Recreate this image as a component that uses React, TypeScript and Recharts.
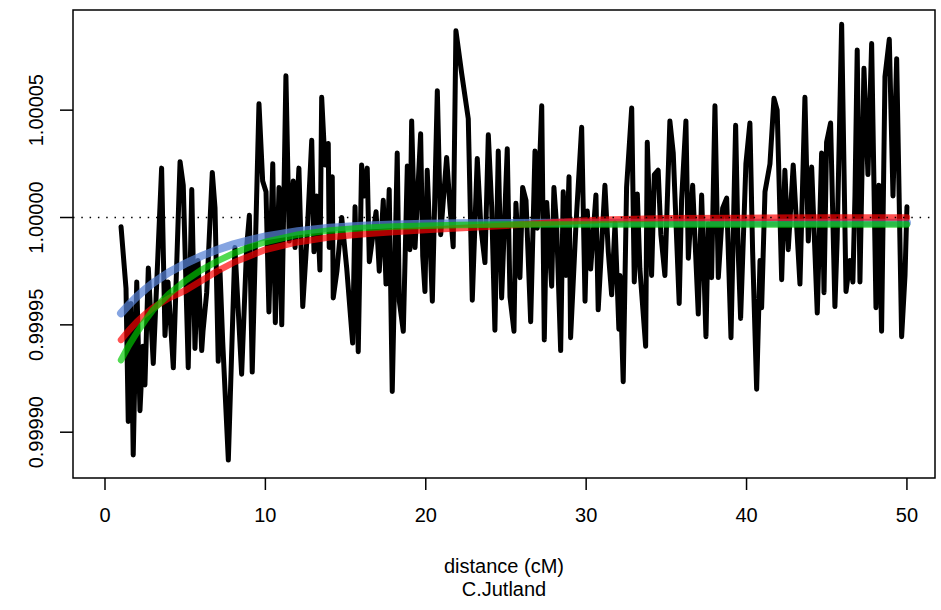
import React from "react";
import { LineChart, Line, XAxis, YAxis, ReferenceLine, ReferenceArea } from "recharts";

// observed ratio vs genetic distance (cM)
const distance = [
  1.0, 1.31, 1.45, 1.62, 1.76, 1.98, 2.18, 2.37, 2.49, 2.7, 3.01, 3.53, 3.74, 3.93, 4.26, 4.68, 4.88, 5.19, 5.41, 5.61,
  5.8, 6.03, 6.11, 6.34, 6.69, 6.86, 7.06, 7.17, 7.34, 7.69, 8.1, 8.52, 8.83, 9.0, 9.18, 9.6, 9.83, 10.04, 10.22, 10.46,
  10.62, 10.85, 11.02, 11.28, 11.49, 11.74, 11.85, 12.09, 12.33, 12.59, 12.89, 13.03, 13.2, 13.4, 13.51, 13.72, 13.92, 13.98, 14.17, 14.23,
  14.46, 14.76, 15.07, 15.44, 15.59, 15.79, 16.0, 16.18, 16.35, 16.48, 16.9, 17.1, 17.35, 17.52, 17.72, 17.91, 18.22, 18.35, 18.6, 18.85,
  19.01, 19.12, 19.33, 19.68, 19.81, 19.95, 20.09, 20.41, 20.72, 20.93, 21.3, 21.51, 21.71, 21.88, 22.24, 22.65, 22.9, 23.21, 23.44, 23.69,
  23.9, 24.11, 24.31, 24.52, 24.73, 25.08, 25.25, 25.5, 25.62, 25.87, 26.04, 26.25, 26.54, 26.81, 26.95, 27.23, 27.39, 27.54, 27.85, 27.99,
  28.16, 28.41, 28.57, 28.74, 28.93, 29.03, 29.36, 29.72, 29.93, 30.07, 30.28, 30.61, 30.75, 31.17, 31.38, 31.59, 31.8, 32.04, 32.11, 32.31,
  32.52, 32.84, 33.0, 33.19, 33.35, 33.71, 33.81, 34.08, 34.25, 34.49, 34.66, 34.91, 35.22, 35.43, 35.8, 35.95, 36.22, 36.37, 36.64, 36.99,
  37.2, 37.47, 37.61, 37.82, 38.03, 38.24, 38.51, 38.76, 39.03, 39.32, 39.48, 39.63, 39.96, 40.21, 40.38, 40.63, 40.84, 40.94, 41.15, 41.46,
  41.71, 41.91, 42.19, 42.39, 42.6, 42.91, 43.33, 43.64, 43.85, 44.06, 44.41, 44.68, 44.83, 44.99, 45.24, 45.51, 45.65, 45.93, 46.2, 46.45,
  46.63, 46.76, 46.9, 47.07, 47.32, 47.57, 47.8, 48.07, 48.25, 48.42, 48.63, 48.9, 49.13, 49.36, 49.67, 49.88, 50.0,
];

const observed = [
  0.9999957, 0.999967, 0.999905, 0.99996, 0.9998894, 0.99997, 0.99991, 0.99994, 0.999922, 0.9999765, 0.999932, 1.000023, 0.999945, 0.99997, 0.99993, 1.000026, 1.000015, 0.99993, 1.000013, 0.999939,
  0.99998, 0.999938, 0.999947, 0.999965, 1.000021, 1.0000044, 0.999933, 0.999975, 0.999942, 0.999887, 0.999986, 0.999927, 0.999986, 1.000001, 0.999928, 1.000053, 1.000017, 1.000012, 0.999956, 1.000025,
  0.999951, 1.000014, 0.99995, 1.000066, 0.999989, 1.000017, 0.999986, 1.000023, 0.9999585, 0.99999, 1.000036, 0.999984, 1.00001, 0.9999755, 1.000056, 1.0000245, 1.0000345, 0.999986, 1.000019, 0.9999625,
  0.999975, 1.0, 0.9999765, 0.9999415, 1.000005, 0.9999375, 1.0000245, 1.00001, 1.000023, 0.9999794, 1.0000027, 0.999975, 1.000008, 0.999969, 1.000013, 0.999919, 1.00003, 0.999961, 0.999947, 1.000024,
  0.999985, 1.000045, 0.999986, 1.000039, 0.999982, 0.9999655, 1.000022, 0.999961, 1.000059, 0.999992, 1.000028, 1.000005, 0.9999864, 1.000087, 1.000067, 1.000046, 0.9999615, 1.0000275, 0.999995, 0.999979,
  1.0000385, 1.000005, 0.9999475, 1.000031, 0.9999625, 1.000032, 0.999963, 0.999947, 1.0000066, 0.999972, 1.000014, 1.000008, 0.9999515, 1.000031, 0.999995, 1.000052, 0.999943, 1.000007, 0.999968, 1.000014,
  0.999996, 0.999938, 1.000012, 0.999973, 1.000019, 0.999944, 0.999996, 1.000042, 0.999961, 1.000003, 0.999976, 1.0000105, 0.999957, 1.000015, 0.999984, 0.999964, 0.9999974, 0.999948, 0.999973, 0.9999235,
  1.000014, 1.000051, 0.99997, 1.000011, 0.999976, 0.99994, 1.000035, 0.999973, 1.00002, 1.000022, 0.999992, 0.999973, 1.000045, 1.00003, 0.99996, 1.000008, 1.000045, 0.999981, 1.000015, 0.999955,
  1.0000105, 0.9999445, 0.999997, 0.999972, 1.000052, 0.999972, 1.0000043, 1.000009, 0.999944, 1.000043, 0.999984, 0.999953, 1.000025, 1.000044, 0.999984, 0.99992, 0.99998, 0.999958, 1.000012, 1.000025,
  1.0000555, 1.00005, 0.999971, 1.000022, 0.999985, 1.0000245, 0.999969, 1.000056, 0.999989, 1.0000235, 0.9999555, 1.00003, 0.999965, 1.000035, 1.000044, 0.9999585, 0.99999, 1.00009, 0.9999655, 0.99998,
  0.99997, 1.00001, 1.000078, 0.99997, 1.0000695, 1.00002, 1.000081, 0.999958, 1.000015, 0.999947, 1.0000655, 1.000083, 1.00001, 1.000074, 0.9999445, 0.999973, 1.000005,
];

// fitted curves
const fitDistance = [1, 1.5, 2, 2.5, 3, 4, 5, 6, 7, 8, 9, 10, 12, 14, 16, 18, 20, 22, 25, 28, 31, 35, 40, 45, 50];
const fitBlue = [
  0.9999554, 0.9999595, 0.9999632, 0.9999665, 0.9999695, 0.9999745, 0.9999785, 0.999982, 0.999985, 0.9999875, 0.9999895, 0.9999912, 0.9999936,
  0.9999952, 0.9999962, 0.9999968, 0.9999971, 0.9999973, 0.9999974, 0.9999975, 0.9999975, 0.9999975, 0.9999975, 0.9999975, 0.9999975,
];
const fitRed = [
  0.999943, 0.9999475, 0.9999515, 0.999955, 0.999958, 0.9999625, 0.999966, 0.9999705, 0.999975, 0.999979, 0.999982, 0.999985, 0.9999885,
  0.9999908, 0.9999922, 0.9999933, 0.9999942, 0.999995, 0.9999962, 0.9999978, 0.999999, 0.9999996, 0.9999998, 1.0, 1.0,
];
const fitGreen = [
  0.9999336, 0.9999405, 0.9999465, 0.999952, 0.999957, 0.9999645, 0.9999705, 0.9999755, 0.9999797, 0.9999832, 0.9999862, 0.9999886, 0.999992,
  0.999994, 0.9999951, 0.9999958, 0.9999962, 0.9999965, 0.9999967, 0.9999968, 0.9999968, 0.9999968, 0.9999968, 0.9999968, 0.9999968,
];

const xTicks = [0, 10, 20, 30, 40, 50];
const yTicks = [0.9999, 0.99995, 1.0, 1.00005];
const xDomain = [-1.995, 51.75];
const yDomain = [0.99987867, 1.00009665];

const blackData = distance.map((x, i) => ({ x, y: observed[i] }));
const blueData = fitDistance.map((x, i) => ({ x, y: fitBlue[i] }));
const redData = fitDistance.map((x, i) => ({ x, y: fitRed[i] }));
const greenData = fitDistance.map((x, i) => ({ x, y: fitGreen[i] }));

const FONT = "'Liberation Sans', Arial, Helvetica, sans-serif";

const XTick = (props: any) => {
  const { x, y, payload } = props;
  return (
    <text x={x} y={y + 30} textAnchor="middle" fontFamily={FONT} fontSize={20} fill="#000">
      {payload.value}
    </text>
  );
};

const YTick = (props: any) => {
  const { x, y, payload } = props;
  return (
    <text
      transform={`translate(${x - 15},${y}) rotate(-90)`}
      textAnchor="middle"
      fontFamily={FONT}
      fontSize={20}
      fill="#000"
    >
      {Number(payload.value).toFixed(5)}
    </text>
  );
};

export default function App() {
  return (
    <div style={{ position: "absolute", left: 0, top: 0, width: 941, height: 610, background: "#fff" }}>
      <LineChart width={941} height={610} margin={{ top: 10, right: 6, left: 0, bottom: 92 }}>
        <XAxis
          dataKey="x"
          type="number"
          domain={xDomain}
          allowDataOverflow
          ticks={xTicks}
          interval={0}
          height={40}
          axisLine={false}
          tickSize={12}
          tickLine={{ stroke: "#000", strokeWidth: 1.5 }}
          tick={<XTick />}
        />
        <YAxis
          type="number"
          domain={yDomain}
          allowDataOverflow
          ticks={yTicks}
          interval={0}
          width={73}
          axisLine={false}
          tickSize={13}
          tickLine={{ stroke: "#000", strokeWidth: 1.5 }}
          tick={<YTick />}
        />
        <Line
          data={blackData}
          dataKey="y"
          type="linear"
          stroke="#000"
          strokeWidth={5}
          strokeLinejoin="round"
          strokeLinecap="round"
          dot={false}
          activeDot={false}
          isAnimationActive={false}
        />
        <Line
          data={blueData}
          dataKey="y"
          type="linear"
          stroke="rgb(86,129,214)"
          strokeOpacity={0.72}
          strokeWidth={8}
          strokeLinecap="round"
          dot={false}
          activeDot={false}
          isAnimationActive={false}
        />
        <Line
          data={redData}
          dataKey="y"
          type="linear"
          stroke="rgb(255,0,0)"
          strokeOpacity={0.68}
          strokeWidth={6.5}
          strokeLinecap="round"
          dot={false}
          activeDot={false}
          isAnimationActive={false}
        />
        <Line
          data={greenData}
          dataKey="y"
          type="linear"
          stroke="rgb(0,200,0)"
          strokeOpacity={0.68}
          strokeWidth={6.5}
          strokeLinecap="round"
          dot={false}
          activeDot={false}
          isAnimationActive={false}
        />
        <ReferenceLine y={1} stroke="#000" strokeWidth={1.5} strokeDasharray="1.5 6.8" />
        <ReferenceArea
          x1={xDomain[0]}
          x2={xDomain[1]}
          y1={yDomain[0]}
          y2={yDomain[1]}
          fill="none"
          fillOpacity={0}
          stroke="#000"
          strokeWidth={1.5}
          ifOverflow="visible"
        />
      </LineChart>
      <svg
        width={941}
        height={610}
        style={{ position: "absolute", left: 0, top: 0, pointerEvents: "none" }}
      >
        <text x={504} y={573} textAnchor="middle" fontFamily={FONT} fontSize={20} fill="#000">
          distance (cM)
        </text>
        <text x={504} y={596} textAnchor="middle" fontFamily={FONT} fontSize={20} fill="#000">
          C.Jutland
        </text>
      </svg>
    </div>
  );
}
